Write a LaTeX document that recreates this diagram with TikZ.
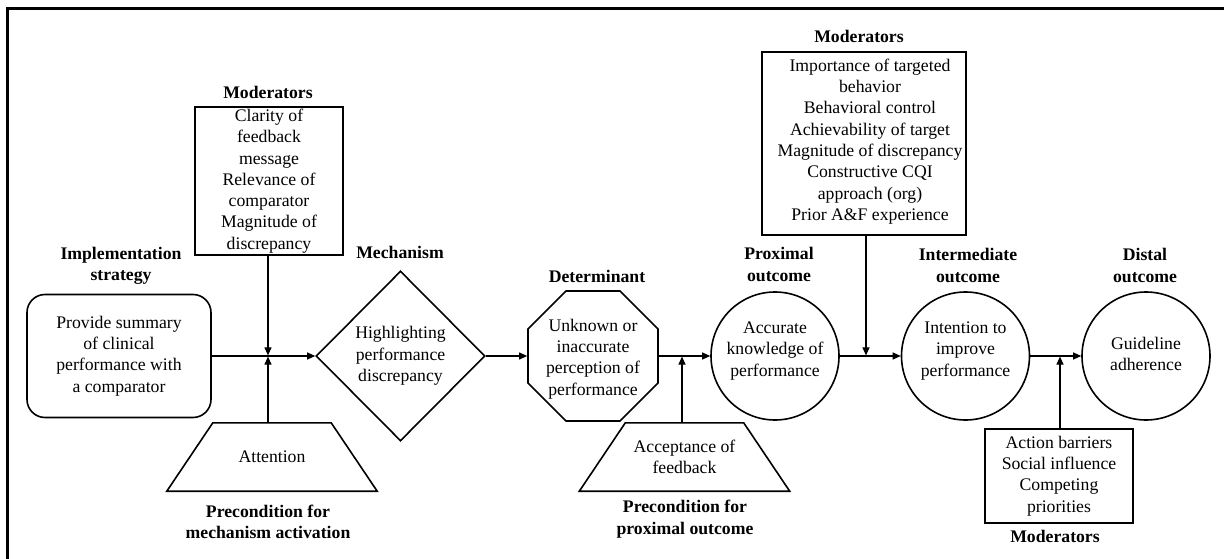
\documentclass[tikz,border=0pt]{standalone}
\usepackage{fontspec}
\setmainfont{Liberation Serif}
\usetikzlibrary{shapes.geometric,arrows.meta}
\begin{document}
\begin{tikzpicture}[x=1pt,y=-1pt,
  txt/.style={font=\fontsize{17.7}{21.3}\selectfont, align=center, inner sep=0pt},
  ttl/.style={font=\fontsize{17.7}{21.6}\selectfont\bfseries, align=center, inner sep=0pt},
  shp/.style={draw, line width=1.6pt},
  con/.style={line width=1.1pt, -{Triangle[length=8pt,width=7pt]}},
  trapbox/.style={rectangle, minimum width=210pt, minimum height=68pt, txt}
]
\useasboundingbox (0,0) rectangle (1224,559);

% outer frame (top and left rules)
\draw[line width=3pt] (7,559) -- (7,8.7) -- (1224,8.7);

% main chain
\node[shp, rounded corners=18pt, minimum width=184pt, minimum height=123pt, txt]
  (impl) at (119,356) {Provide summary\\of clinical\\performance with\\a comparator};
\node[shp, diamond, minimum width=169pt, minimum height=170pt, txt]
  (mech) at (400.5,356) {Highlighting\\performance\\discrepancy};
\node[shp, regular polygon, regular polygon sides=8, minimum size=140.8pt, inner sep=0pt,
  label={[txt, yshift=-3pt]center:{Unknown or\\inaccurate\\perception of\\performance}}]
  (det) at (593,356) {};
\node[shp, circle, minimum size=128pt, inner sep=0pt,
  label={[txt, yshift=5pt]center:{Accurate\\knowledge of\\performance}}]
  (prox) at (775,356) {};
\node[shp, circle, minimum size=128pt, inner sep=0pt,
  label={[txt, yshift=5pt]center:{Intention to\\improve\\performance}}]
  (int) at (965.5,356) {};
\node[shp, circle, minimum size=128pt, inner sep=0pt,
  label={[txt, yshift=2pt]center:{Guideline\\adherence}}]
  (dist) at (1146,356) {};

% preconditions: trapezoids drawn on the frame of their text nodes
\node[trapbox] (att) at (272,457) {Attention};
\node[trapbox] (acc) at (684.5,457) {Acceptance of\\feedback};
\foreach \t in {att,acc}
  \draw[shp, line join=miter] (\t.south west) -- (\t.south east)
    -- ([xshift=-46pt]\t.north east) -- ([xshift=46pt]\t.north west) -- cycle;

% moderator boxes
\node[shp, minimum width=148pt, minimum height=148pt, txt]
  (modA) at (269,181) {Clarity of\\feedback\\message\\Relevance of\\comparator\\Magnitude of\\discrepancy};
\node[shp, minimum width=204pt, minimum height=183pt, inner sep=0pt,
  label={[txt, xshift=6pt, yshift=2pt]center:{Importance of targeted\\behavior\\Behavioral control\\Achievability of target\\Magnitude of discrepancy\\Constructive CQI\\approach (org)\\Prior A\&F experience}}]
  (modB) at (864,143.5) {};
\node[shp, minimum width=148pt, minimum height=94pt, txt]
  (modC) at (1059,476) {Action barriers\\Social influence\\Competing\\priorities};

% headings
\node[ttl] (hModA) at (268,92) {Moderators};
\node[ttl] (hImpl) at (121,266) {Implementation\\strategy};
\node[ttl] (hMech) at (400,252) {Mechanism};
\node[ttl] (hDet) at (597,276) {Determinant};
\node[ttl] (hProx) at (779,264.5) {Proximal\\outcome};
\node[ttl] (hModB) at (859,36) {Moderators};
\node[ttl] (hInt) at (968,265.5) {Intermediate\\outcome};
\node[ttl] (hDist) at (1145,265.5) {Distal\\outcome};
\node[ttl] (hPreA) at (268,522) {Precondition for\\mechanism activation};
\node[ttl] (hPreB) at (685,519) {Precondition for\\proximal outcome};
\node[ttl] (hModC) at (1055,536) {Moderators};

% junctions on the main chain
\coordinate (j1) at (268,356);
\coordinate (j2) at (682,356);
\coordinate (j3) at (866,356);
\coordinate (j4) at (1060,356);

% connectors
\draw[con] (impl.east) -- (mech.west);
\draw[con] (mech.east) -- (det.west);
\draw[con] (det.east) -- (prox.west);
\draw[con] (prox.east) -- (int.west);
\draw[con] (int.east) -- (dist.west);
\draw[con, shorten >=0.6pt] (modA.south -| j1) -- (j1);
\draw[con, shorten >=0.6pt] (att.north -| j1) -- (j1);
\draw[con, shorten >=0.6pt] (acc.north -| j2) -- (j2);
\draw[con, shorten >=0.6pt] (modB.south -| j3) -- (j3);
\draw[con, shorten >=0.6pt] (modC.north -| j4) -- (j4);
\end{tikzpicture}
\end{document}
